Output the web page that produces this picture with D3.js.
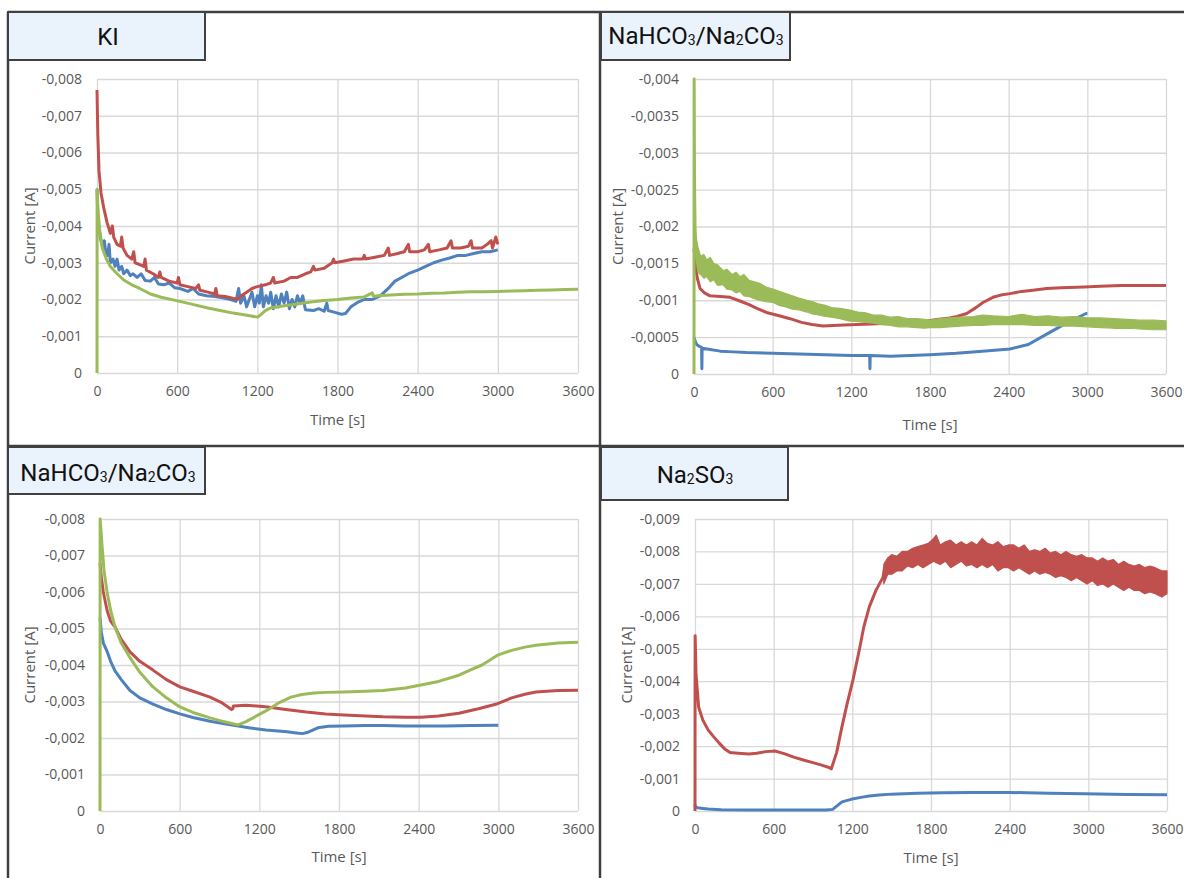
<!DOCTYPE html>
<html>
<head>
<meta charset="utf-8">
<script src="https://cdn.jsdelivr.net/npm/d3@7"></script>
<style>
  body { margin: 0; background: #fff; }
  svg text { font-family: "Open Sans", sans-serif; }
</style>
</head>
<body>
<svg id="chart" width="1184" height="878"></svg>
<script>

// shared ticks
var timeTicks = [0, 600, 1200, 1800, 2400, 3000, 3600];
var kiTicks = [0, -0.001, -0.002, -0.003, -0.004, -0.005, -0.006, -0.007, -0.008];
var carbTicksA = [0, -0.0005, -0.001, -0.0015, -0.002, -0.0025, -0.003, -0.0035, -0.004];
var carbTicksB = [0, -0.001, -0.002, -0.003, -0.004, -0.005, -0.006, -0.007, -0.008];
var sulfTicks = [0, -0.001, -0.002, -0.003, -0.004, -0.005, -0.006, -0.007, -0.008, -0.009];

// ---- KI ----
var kiBlue = [[0,-0.0050],[5,-0.0044],[15,-0.0039],[30,-0.0036],[45,-0.0034],[55,-0.0036],[65,-0.0033],[80,-0.0032],[90,-0.0035],[100,-0.0030],[120,-0.0031],[135,-0.0029],[150,-0.0031],[165,-0.0028],[185,-0.0029],[200,-0.0027],[225,-0.0028],[250,-0.00265],[270,-0.0027],[300,-0.0026],[330,-0.0027],[360,-0.00252],[400,-0.0025],[430,-0.0026],[460,-0.00242],[500,-0.0024],[540,-0.00245],[580,-0.00232],[620,-0.0023],[680,-0.00222],[720,-0.0023],[760,-0.00215],[820,-0.0021],[880,-0.00208],[940,-0.00205],[1000,-0.0020],[1040,-0.00195],[1060,-0.0023],[1075,-0.0019],[1100,-0.0021],[1120,-0.0018],[1140,-0.0020],[1160,-0.0022],[1180,-0.0018],[1200,-0.0021],[1215,-0.0019],[1230,-0.0024],[1245,-0.0018],[1265,-0.0021],[1285,-0.0019],[1300,-0.0022],[1320,-0.00175],[1340,-0.0021],[1360,-0.0018],[1380,-0.00215],[1400,-0.0019],[1420,-0.0022],[1440,-0.00175],[1460,-0.0020],[1480,-0.0018],[1500,-0.0021],[1520,-0.0019],[1540,-0.0021],[1550,-0.0019],[1560,-0.00172],[1620,-0.0017],[1660,-0.00175],[1700,-0.00168],[1720,-0.0019],[1730,-0.0017],[1780,-0.00165],[1830,-0.0016],[1860,-0.00162],[1900,-0.0018],[1950,-0.00192],[2000,-0.0020],[2060,-0.0020],[2120,-0.0021],[2180,-0.0023],[2230,-0.0025],[2280,-0.0026],[2340,-0.00272],[2400,-0.0028],[2460,-0.0029],[2520,-0.0030],[2580,-0.00307],[2640,-0.00313],[2700,-0.0032],[2760,-0.0032],[2820,-0.00325],[2880,-0.0033],[2940,-0.0033],[3000,-0.00335]];
var kiRed = [[0,-0.0077],[6,-0.0065],[15,-0.0055],[30,-0.0049],[50,-0.0045],[75,-0.0041],[100,-0.0038],[115,-0.0040],[125,-0.0037],[150,-0.0035],[175,-0.00345],[185,-0.0037],[195,-0.0034],[225,-0.0032],[260,-0.0031],[275,-0.0033],[285,-0.0030],[320,-0.00295],[350,-0.0029],[360,-0.0031],[370,-0.0028],[420,-0.0027],[460,-0.0026],[470,-0.00275],[480,-0.0026],[540,-0.0025],[600,-0.00245],[610,-0.0026],[620,-0.0024],[680,-0.00235],[740,-0.0023],[760,-0.0024],[770,-0.00225],[830,-0.0022],[880,-0.00215],[890,-0.0023],[900,-0.0021],[960,-0.00208],[1000,-0.00205],[1050,-0.0020],[1080,-0.0021],[1120,-0.0022],[1160,-0.0023],[1200,-0.00235],[1260,-0.0024],[1300,-0.00245],[1320,-0.0026],[1330,-0.00245],[1400,-0.0025],[1450,-0.0026],[1500,-0.0026],[1560,-0.0027],[1600,-0.00275],[1620,-0.0029],[1630,-0.0028],[1700,-0.00285],[1760,-0.0030],[1770,-0.0031],[1780,-0.0030],[1850,-0.00305],[1920,-0.0031],[1990,-0.0031],[2000,-0.0032],[2010,-0.0031],[2080,-0.00315],[2150,-0.0032],[2180,-0.0034],[2190,-0.0032],[2250,-0.00325],[2300,-0.0033],[2330,-0.0035],[2340,-0.0033],[2400,-0.0033],[2450,-0.00335],[2480,-0.0035],[2490,-0.0033],[2560,-0.00335],[2620,-0.0034],[2650,-0.0036],[2660,-0.0034],[2720,-0.0034],[2780,-0.00345],[2800,-0.0036],[2810,-0.0034],[2880,-0.0034],[2920,-0.0035],[2950,-0.0036],[2960,-0.0034],[2985,-0.0037],[3000,-0.0035]];
var kiGreen = [[0,0],[1,-0.0050],[8,-0.0044],[20,-0.0039],[40,-0.0034],[70,-0.0031],[100,-0.0029],[150,-0.0027],[200,-0.00253],[260,-0.0024],[320,-0.0023],[400,-0.00215],[480,-0.00206],[570,-0.00199],[700,-0.00188],[830,-0.00177],[950,-0.00168],[1020,-0.00163],[1110,-0.00158],[1200,-0.00152],[1230,-0.0016],[1260,-0.0017],[1300,-0.00177],[1400,-0.00183],[1500,-0.00188],[1600,-0.00193],[1700,-0.00197],[1800,-0.0020],[1900,-0.00204],[2000,-0.00207],[2060,-0.00218],[2070,-0.00208],[2100,-0.0021],[2200,-0.00212],[2300,-0.00214],[2400,-0.00215],[2500,-0.00217],[2600,-0.00218],[2700,-0.0022],[2800,-0.00221],[2900,-0.00221],[3000,-0.00222],[3100,-0.00223],[3200,-0.00224],[3300,-0.00225],[3400,-0.00226],[3500,-0.00227],[3600,-0.00228]];

// ---- NaHCO3/Na2CO3 (top right) ----
var carbABlue = [[0,-0.0005],[8,-0.00045],[20,-0.0004],[45,-0.00037],[58,-0.00036],[60,-0.00007],[62,-0.00035],[100,-0.00034],[200,-0.00031],[300,-0.0003],[400,-0.00029],[600,-0.00028],[800,-0.00027],[1000,-0.00026],[1200,-0.00025],[1340,-0.00025],[1342,-0.00007],[1344,-0.00025],[1500,-0.00024],[1650,-0.00025],[1800,-0.00026],[2000,-0.00028],[2200,-0.00031],[2410,-0.00034],[2550,-0.0004],[2690,-0.00054],[2830,-0.00068],[2990,-0.00082],[3000,-0.00082]];
var carbARed = [[0,-0.0017],[10,-0.0015],[25,-0.0013],[46,-0.00116],[80,-0.0011],[122,-0.00106],[200,-0.00105],[275,-0.00104],[350,-0.00099],[420,-0.00094],[480,-0.00089],[560,-0.00083],[650,-0.00079],[732,-0.00075],[820,-0.0007],[900,-0.00067],[984,-0.00065],[1100,-0.00066],[1243,-0.00067],[1400,-0.00068],[1500,-0.00069],[1625,-0.0007],[1750,-0.00071],[1850,-0.00074],[1950,-0.00076],[2006,-0.00078],[2080,-0.00082],[2150,-0.0009],[2204,-0.00097],[2280,-0.00104],[2340,-0.00107],[2410,-0.00109],[2500,-0.00112],[2600,-0.00114],[2690,-0.00116],[2800,-0.00117],[2975,-0.00118],[3100,-0.00119],[3257,-0.0012],[3400,-0.0012],[3600,-0.0012]];
var carbAGreen = [[0,0],[1,-0.004],[4,-0.0026],[8,-0.002],[12,-0.00175],[30,-0.00155],[97,-0.00143],[223,-0.0013],[351,-0.00122],[603,-0.00106],[862,-0.00092],[1113,-0.00082],[1366,-0.00075],[1625,-0.0007],[1800,-0.00068],[2130,-0.00072],[2400,-0.00073],[3000,-0.0007],[3600,-0.00066]];
// noisy envelope: time, low, high
var carbAGreenNoise = [[12,-0.0016,-0.0019],[30,-0.00138,-0.00172],[50,-0.00135,-0.0016],[75,-0.0013,-0.00162],[97,-0.00132,-0.00155],[125,-0.00125,-0.00158],[150,-0.00128,-0.0015],[180,-0.0012,-0.00148],[223,-0.00121,-0.0014],[250,-0.00115,-0.00142],[290,-0.00114,-0.00135],[320,-0.0011,-0.00138],[351,-0.00112,-0.00132],[380,-0.00106,-0.00135],[420,-0.00105,-0.00127],[460,-0.00102,-0.00125],[500,-0.001,-0.00123],[550,-0.00098,-0.00118],[603,-0.00097,-0.00115],[650,-0.00093,-0.00112],[700,-0.00091,-0.00109],[750,-0.00088,-0.00106],[800,-0.00087,-0.00103],[862,-0.00084,-0.001],[910,-0.00081,-0.00098],[950,-0.0008,-0.00095],[1000,-0.00078,-0.00093],[1050,-0.00077,-0.0009],[1113,-0.00075,-0.00089],[1180,-0.00072,-0.00087],[1250,-0.00071,-0.00084],[1310,-0.0007,-0.00083],[1366,-0.00069,-0.0008],[1430,-0.00067,-0.0008],[1500,-0.00066,-0.00077],[1560,-0.00064,-0.00078],[1625,-0.00064,-0.00075],[1700,-0.00063,-0.00075],[1760,-0.00062,-0.00074],[1800,-0.00063,-0.00073],[1880,-0.00063,-0.00075],[1950,-0.00064,-0.00076],[2030,-0.00065,-0.00077],[2130,-0.00066,-0.00078],[2200,-0.00066,-0.0008],[2280,-0.00067,-0.00079],[2400,-0.00067,-0.00078],[2500,-0.00067,-0.00081],[2600,-0.00066,-0.00078],[2700,-0.00066,-0.00079],[2800,-0.00065,-0.00077],[2900,-0.00065,-0.00078],[3000,-0.00064,-0.00076],[3100,-0.00063,-0.00076],[3200,-0.00062,-0.00075],[3300,-0.00062,-0.00074],[3400,-0.00061,-0.00073],[3500,-0.0006,-0.00073],[3600,-0.0006,-0.00072]];

// ---- NaHCO3/Na2CO3 (bottom left) ----
var carbBBlue = [[0,-0.0053],[10,-0.0049],[25,-0.0046],[53,-0.00438],[80,-0.0041],[113,-0.00384],[160,-0.0036],[226,-0.0033],[300,-0.0031],[399,-0.00293],[500,-0.00278],[602,-0.00266],[700,-0.00256],[829,-0.00246],[950,-0.00238],[1122,-0.00228],[1250,-0.00222],[1409,-0.00217],[1480,-0.00214],[1524,-0.00212],[1560,-0.00215],[1640,-0.00228],[1720,-0.00232],[1838,-0.00233],[2000,-0.00234],[2131,-0.00234],[2300,-0.00233],[2417,-0.00233],[2600,-0.00233],[2800,-0.00234],[3000,-0.00235]];
var carbBRed = [[0,-0.0068],[10,-0.0064],[25,-0.0060],[53,-0.0055],[80,-0.0052],[113,-0.00504],[160,-0.0047],[226,-0.00436],[300,-0.0041],[399,-0.00386],[500,-0.0036],[602,-0.0034],[700,-0.00328],[829,-0.00312],[920,-0.00296],[991,-0.00278],[1000,-0.0028],[1005,-0.00288],[1100,-0.0029],[1263,-0.00285],[1400,-0.00278],[1553,-0.00271],[1700,-0.00266],[1838,-0.00263],[2000,-0.0026],[2131,-0.00258],[2300,-0.00257],[2417,-0.00257],[2550,-0.0026],[2703,-0.00268],[2850,-0.0028],[2994,-0.00294],[3100,-0.0031],[3200,-0.0032],[3283,-0.00326],[3450,-0.0033],[3600,-0.00331]];
var carbBGreen = [[0,0],[1,-0.0080],[15,-0.0073],[30,-0.0066],[53,-0.0060],[80,-0.0055],[113,-0.00504],[160,-0.0046],[226,-0.0042],[300,-0.0038],[399,-0.0034],[500,-0.0031],[602,-0.00285],[700,-0.0027],[829,-0.00255],[930,-0.00245],[1040,-0.00236],[1100,-0.00245],[1263,-0.00277],[1350,-0.00297],[1438,-0.00312],[1520,-0.00319],[1611,-0.00323],[1700,-0.00325],[1838,-0.00326],[2000,-0.00328],[2131,-0.0033],[2300,-0.00337],[2417,-0.00345],[2550,-0.00355],[2703,-0.00372],[2800,-0.00388],[2877,-0.004],[2994,-0.00427],[3100,-0.0044],[3200,-0.00449],[3283,-0.00454],[3450,-0.0046],[3600,-0.00462]];

// ---- Na2SO3 ----
var sulfBlue = [[0,-0.0002],[3,-0.00012],[20,-0.0001],[60,-0.00008],[100,-0.00006],[200,-0.00004],[400,-0.00003],[600,-0.00003],[800,-0.00003],[1000,-0.00003],[1050,-0.00005],[1121,-0.00028],[1190,-0.00036],[1265,-0.00042],[1330,-0.00046],[1403,-0.00049],[1500,-0.00052],[1692,-0.00055],[1900,-0.00056],[2113,-0.00057],[2400,-0.00057],[2700,-0.00055],[2967,-0.00053],[3300,-0.00051],[3600,-0.0005]];
var sulfRed = [[0,0],[1,-0.0054],[8,-0.0042],[28,-0.0032],[60,-0.0028],[100,-0.0025],[140,-0.0023],[183,-0.0021],[230,-0.0019],[267,-0.0018],[330,-0.00178],[410,-0.00176],[470,-0.00178],[540,-0.00183],[610,-0.00185],[680,-0.00177],[753,-0.00166],[820,-0.00158],[892,-0.0015],[960,-0.00142],[1022,-0.00134],[1040,-0.0013],[1080,-0.0018],[1121,-0.0026],[1160,-0.0033],[1205,-0.00404],[1250,-0.0049],[1289,-0.0057],[1330,-0.0063],[1380,-0.0068],[1434,-0.0072],[1445,-0.0075],[1549,-0.0076],[1700,-0.0078],[1830,-0.0080],[2113,-0.0079],[2403,-0.0078],[2685,-0.0077],[2967,-0.0075],[3250,-0.0073],[3600,-0.0070]];
var sulfRedNoise = [[1440,-0.0070,-0.0076],[1470,-0.0073,-0.0078],[1500,-0.0073,-0.0079],[1540,-0.0074,-0.00785],[1580,-0.0074,-0.0080],[1620,-0.00755,-0.0080],[1660,-0.0075,-0.0081],[1700,-0.0076,-0.00815],[1740,-0.0075,-0.0082],[1780,-0.0076,-0.00825],[1820,-0.0077,-0.0084],[1840,-0.00765,-0.0085],[1870,-0.0076,-0.0082],[1910,-0.0077,-0.0083],[1950,-0.0075,-0.00835],[1990,-0.0076,-0.0082],[2030,-0.0077,-0.0083],[2070,-0.00755,-0.0082],[2110,-0.0076,-0.0083],[2150,-0.0075,-0.0082],[2190,-0.0076,-0.0084],[2230,-0.0075,-0.00825],[2270,-0.0076,-0.0082],[2310,-0.0074,-0.0083],[2350,-0.0075,-0.00815],[2390,-0.0075,-0.0082],[2430,-0.0074,-0.0082],[2470,-0.0075,-0.0081],[2510,-0.0074,-0.0082],[2550,-0.0073,-0.0080],[2590,-0.0074,-0.00805],[2630,-0.0073,-0.0080],[2670,-0.00735,-0.0081],[2710,-0.0073,-0.00795],[2750,-0.0072,-0.0080],[2790,-0.00725,-0.0079],[2830,-0.0072,-0.0080],[2870,-0.0071,-0.0079],[2910,-0.0072,-0.00785],[2950,-0.0071,-0.0079],[2990,-0.0070,-0.0078],[3030,-0.0071,-0.0078],[3070,-0.00695,-0.0077],[3110,-0.0070,-0.0078],[3150,-0.0069,-0.0077],[3190,-0.0070,-0.00775],[3230,-0.0069,-0.0076],[3270,-0.0068,-0.0077],[3310,-0.0069,-0.0076],[3350,-0.0068,-0.00755],[3390,-0.0068,-0.0076],[3430,-0.0067,-0.0075],[3470,-0.00675,-0.00755],[3510,-0.0067,-0.0075],[3560,-0.0066,-0.0074],[3600,-0.0067,-0.0074]];

var blue = "#4F81BD", red = "#C0504D", green = "#9BBB59";
var textGray = "#595959";

var svg = d3.select("#chart");

function fmt(v) {
    if (v === 0) return "0";
    return String(+v.toFixed(5)).replace(".", ",");
}

function drawPanel(p) {
    var w = p.plot[2] - p.plot[0],
        h = p.plot[3] - p.plot[1];

    var x = d3.scaleLinear().domain([0, 3600]).range([0, w]);
    var y = d3.scaleLinear().domain([0, p.ticks[p.ticks.length - 1]]).range([h, 0]);

    var g = svg.append("g")
        .attr("transform", "translate(" + p.plot[0] + "," + p.plot[1] + ")");

    var yAxis = g.append("g")
        .call(d3.axisLeft(y).tickValues(p.ticks).tickSize(-w).tickPadding(15).tickFormat(fmt));
    var xAxis = g.append("g")
        .attr("transform", "translate(0," + h + ")")
        .call(d3.axisBottom(x).tickValues(timeTicks).tickSize(-h).tickPadding(13).tickFormat(d3.format("d")));

    [yAxis, xAxis].forEach(function(a) {
        a.select(".domain").remove();
        a.selectAll("line").attr("stroke", "#d9d9d9").attr("stroke-width", 1.3);
        a.selectAll("text")
            .attr("fill", textGray)
            .style("font-size", "14px")
            .style("font-family", "'Open Sans', sans-serif");
    });

    // noisy envelopes first so the lines sit on top
    var area = d3.area()
        .x(function(d) { return x(d[0]); })
        .y0(function(d) { return y(d[1]); })
        .y1(function(d) { return y(d[2]); });

    var line = d3.line()
        .x(function(d) { return x(d[0]); })
        .y(function(d) { return y(d[1]); });

    p.series.forEach(function(s) {
        if (s.noise) {
            g.append("path")
                .attr("d", area(s.noise))
                .attr("fill", s.color)
                .attr("stroke", s.color)
                .attr("stroke-width", 1.2)
                .attr("stroke-linejoin", "round");
        }
        g.append("path")
            .attr("d", line(s.data))
            .attr("fill", "none")
            .attr("stroke", s.color)
            .attr("stroke-width", 3)
            .attr("stroke-linejoin", "round");
    });

    // axis titles
    svg.append("text")
        .text("Time [s]")
        .attr("x", p.plot[0] + w / 2)
        .attr("y", p.xTitleY)
        .attr("text-anchor", "middle")
        .attr("fill", textGray)
        .style("font-size", "15px");

    svg.append("text")
        .text("Current [A]")
        .attr("transform", "translate(" + p.yTitleX + "," + (p.plot[1] + h / 2) + ") rotate(-90)")
        .attr("text-anchor", "middle")
        .attr("dominant-baseline", "central")
        .attr("fill", textGray)
        .style("font-size", "15px");

    // title box
    svg.append("rect")
        .attr("x", p.box[0])
        .attr("y", p.box[1])
        .attr("width", p.box[2] - p.box[0])
        .attr("height", p.box[3] - p.box[1])
        .attr("fill", "#eaf2fb")
        .attr("stroke", "#404040")
        .attr("stroke-width", 2);

    var title = svg.append("text")
        .attr("x", p.titleX)
        .attr("y", p.titleY)
        .attr("text-anchor", "middle")
        .attr("fill", "#111")
        .style("font-family", "Roboto, sans-serif")
        .style("font-size", "24px");

    // digits in formulas are drawn as small subscripts
    p.title.split(/(\d)/).filter(function(s) { return s !== ""; }).forEach(function(part) {
        var sub = /^\d$/.test(part);
        title.append("tspan")
            .text(part)
            .style("font-size", sub ? "14px" : "24px")
            .attr("dy", sub ? 1 : -1);
    });
    title.select("tspan").attr("dy", 0);
}

var panels = [
    {title: "KI", box: [8, 12, 205, 60], titleX: 108, titleY: 45,
     plot: [97, 79, 578, 373], ticks: kiTicks, xTitleY: 425, yTitleX: 29,
     series: [{data: kiBlue, color: blue}, {data: kiRed, color: red}, {data: kiGreen, color: green}]},
    {title: "NaHCO3/Na2CO3", box: [601, 12, 790, 60], titleX: 696, titleY: 44,
     plot: [694, 79, 1166, 374], ticks: carbTicksA, xTitleY: 430, yTitleX: 617,
     series: [{data: carbABlue, color: blue}, {data: carbARed, color: red}, {data: carbAGreen, color: green, noise: carbAGreenNoise}]},
    {title: "NaHCO3/Na2CO3", box: [8, 447, 205, 494], titleX: 108, titleY: 481,
     plot: [100, 519, 578, 811], ticks: carbTicksB, xTitleY: 862, yTitleX: 29,
     series: [{data: carbBBlue, color: blue}, {data: carbBRed, color: red}, {data: carbBGreen, color: green}]},
    {title: "Na2SO3", box: [601, 447, 788, 500], titleX: 695, titleY: 483,
     plot: [695, 519, 1167, 811], ticks: sulfTicks, xTitleY: 863, yTitleX: 626,
     series: [{data: sulfBlue, color: blue}, {data: sulfRed, color: red, noise: sulfRedNoise}]}
];

// frame lines between the four panels
var frame = [[8, 12, 1184, 12], [8, 446, 1184, 446], [8, 12, 8, 878], [600, 12, 600, 878]];
svg.selectAll(".frame")
    .data(frame)
    .enter().append("line")
    .attr("class", "frame")
    .attr("x1", function(d) { return d[0]; })
    .attr("y1", function(d) { return d[1]; })
    .attr("x2", function(d) { return d[2]; })
    .attr("y2", function(d) { return d[3]; })
    .attr("stroke", "#404040")
    .attr("stroke-width", 2.5);

panels.forEach(drawPanel);
</script>
</body>
</html>
